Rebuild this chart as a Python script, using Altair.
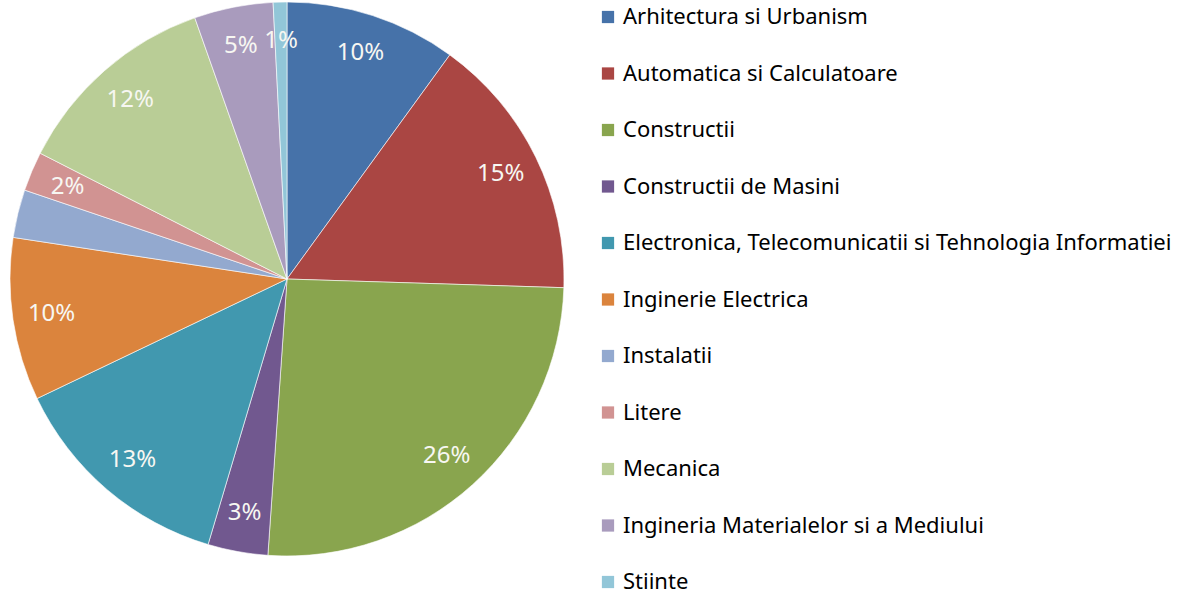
import altair as alt
import pandas as pd

categories = [
    "Arhitectura si Urbanism",
    "Automatica si Calculatoare",
    "Constructii",
    "Constructii de Masini",
    "Electronica, Telecomunicatii si Tehnologia Informatiei",
    "Inginerie Electrica",
    "Instalatii",
    "Litere",
    "Mecanica",
    "Ingineria Materialelor si a Mediului",
    "Stiinte",
]
values = [10.0, 15.5, 25.6, 3.5, 13.3, 9.5, 2.8, 2.3, 12.1, 4.6, 0.8]
labels = ["10%", "15%", "26%", "3%", "13%", "10%", "", "2%", "12%", "5%", "1%"]
colors = ["#4672A9", "#AA4643", "#89A54E", "#71588F", "#4198AF", "#DB843D",
          "#93A9CF", "#D19392", "#B9CD96", "#A99BBD", "#92C6D8"]

df = pd.DataFrame({
    "category": categories,
    "value": values,
    "label": labels,
    "idx": list(range(len(categories))),
})

color_scale = alt.Scale(domain=categories, range=colors)

base = alt.Chart(df).encode(
    theta=alt.Theta("value:Q", stack=True),
    order=alt.Order("idx:Q", sort="ascending"),
)

arcs = base.mark_arc(outerRadius=277, stroke="white", strokeWidth=0.6).encode(
    x=alt.value(287),
    y=alt.value(279),
    color=alt.Color(
        "category:N",
        scale=color_scale,
        sort=categories,
        legend=alt.Legend(
            title=None,
            orient="none",
            legendX=597,
            legendY=6,
            symbolType="square",
            symbolSize=150,
            symbolStrokeWidth=0,
            labelFontSize=22,
            labelFont="Noto Sans",
            labelColor="#000000",
            labelLimit=700,
            rowPadding=34.5,
            labelOffset=4,
        ),
    ),
)

texts = base.mark_text(radius=238, fontSize=24, font="Noto Sans", color="#F7F7F2").encode(
    x=alt.value(287),
    y=alt.value(279),
    text="label:N",
)

chart = (arcs + texts).properties(
    width=1192, height=595, padding=0, autosize=alt.AutoSizeParams(type="none")
).configure_view(stroke=None)

chart.save("out.html", embed_options={"renderer": "svg", "actions": False})
